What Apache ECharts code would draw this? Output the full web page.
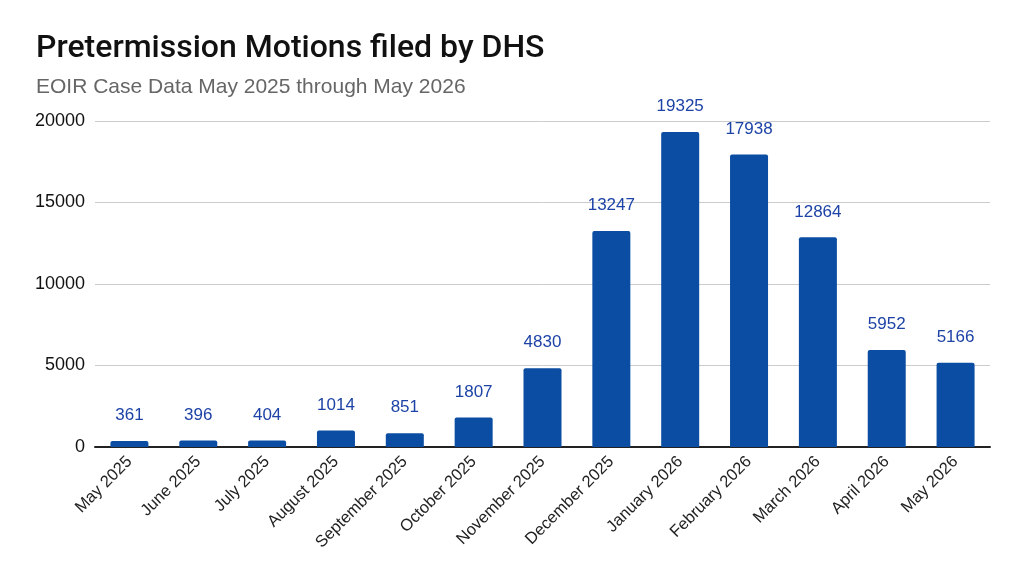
<!DOCTYPE html>
<html>
<head>
<meta charset="utf-8">
<script src="https://cdn.jsdelivr.net/npm/echarts@6/dist/echarts.min.js"></script>
<style>
html,body{margin:0;padding:0;background:#fff;}
#chart{width:1024px;height:570px;}
</style>
</head>
<body>
<div id="chart"></div>
<script>
const categories = ["May 2025","June 2025","July 2025","August 2025","September 2025","October 2025","November 2025","December 2025","January 2026","February 2026","March 2026","April 2026","May 2026"];
const motions = [361,396,404,1014,851,1807,4830,13247,19325,17938,12864,5952,5166];
const yTicks = [0,5000,10000,15000,20000];

const chart = echarts.init(document.getElementById('chart'));
chart.setOption({
  backgroundColor:'#ffffff',
  animation:false,
  title:{
    text:'Pretermission Motions filed by DHS',
    subtext:'EOIR Case Data May 2025 through May 2026',
    left:31, top:28,
    itemGap:12,
    textStyle:{fontFamily:'Roboto',fontWeight:500,fontSize:32,color:'#111111'},
    subtextStyle:{fontFamily:'Liberation Sans',fontSize:21,color:'#666666'}
  },
  grid:{left:95,right:34,top:121,bottom:123,containLabel:false},
  xAxis:{
    type:'category',
    data:categories,
    axisLine:{lineStyle:{color:'#222222',width:2}},
    axisTick:{show:false},
    axisLabel:{rotate:45,interval:0,margin:12,fontFamily:'Liberation Sans',fontSize:16.5,color:'#222222'}
  },
  yAxis:{
    type:'value',
    min:yTicks[0], max:yTicks[yTicks.length-1], interval:5000,
    axisLine:{show:false},
    axisTick:{show:false},
    splitLine:{lineStyle:{color:'#cccccc',width:1}},
    axisLabel:{margin:10,fontFamily:'Liberation Sans',fontSize:18,color:'#111111',formatter:function(v){return String(v);}}
  },
  series:[{
    type:'bar',
    data:motions,
    barWidth:38,
    itemStyle:{color:'#0b4da2',borderRadius:[2,2,0,0]},
    label:{show:true,position:'top',distance:17,fontFamily:'Liberation Sans',fontSize:17,color:'#1d43a6'}
  }]
});
</script>
</body>
</html>
